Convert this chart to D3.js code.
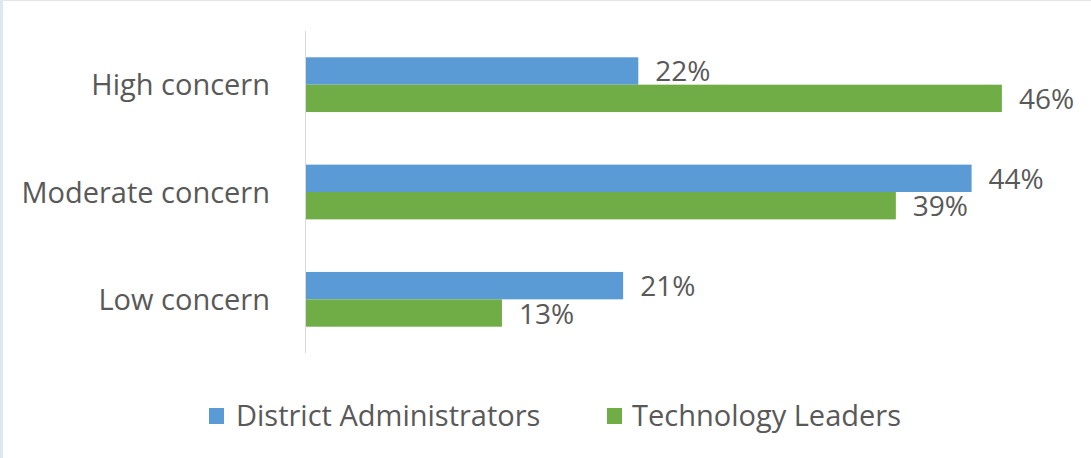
<!DOCTYPE html>
<html>
<head>
<meta charset="utf-8">
<script src="https://cdn.jsdelivr.net/npm/d3@7"></script>
<style>
  html, body { margin: 0; padding: 0; background: #fff; }
  svg { display: block; font-family: "Open Sans", sans-serif; }
</style>
</head>
<body>
<svg id="chart" width="1091" height="458"></svg>
<script>
// chart data
const categories = ['High concern', 'Moderate concern', 'Low concern']
const seriesNames = ['District Administrators', 'Technology Leaders']
const adminValues = [22, 44, 21]
const techValues = [46, 39, 13]
const colors = ['#5b9bd5', '#70ad47']

const w = 1091, h = 458
const svg = d3.select('#chart')

// frame bits from the original screenshot
svg.append('rect').attr('x', 0).attr('y', 0).attr('width', w).attr('height', 1).attr('fill', '#e6e6e6')
svg.append('rect').attr('x', 0).attr('y', 0).attr('width', 3).attr('height', h).attr('fill', '#dce9f5')

const xScale = d3.scaleLinear().domain([0, 50]).range([305, 1062.5])
const yScale = d3.scaleBand().domain(categories).range([31, 353]).paddingInner(0.49).paddingOuter(0.245)
const inner = d3.scaleBand().domain(seriesNames).range([0, yScale.bandwidth()])

const rows = categories.map((c, i) => ({cat: c, vals: [adminValues[i], techValues[i]]}))

const g = svg.selectAll('g.cat').data(rows).enter().append('g')
  .attr('transform', d => `translate(0,${yScale(d.cat)})`)

g.selectAll('rect').data(d => d.vals.map((v, i) => ({v, s: seriesNames[i], i})))
  .enter().append('rect')
  .attr('x', xScale(0))
  .attr('y', d => inner(d.s))
  .attr('height', inner.bandwidth())
  .attr('width', d => xScale(d.v) - xScale(0))
  .attr('fill', d => colors[d.i])

g.selectAll('text.val').data(d => d.vals.map((v, i) => ({v, s: seriesNames[i]})))
  .enter().append('text')
  .attr('class', 'val')
  .attr('x', d => xScale(d.v) + 17)
  .attr('y', d => inner(d.s) + inner.bandwidth() / 2 + 10.5)
  .attr('font-size', 28)
  .attr('fill', '#595959')
  .text(d => d.v + '%')

// category axis
const yAxis = d3.axisLeft(yScale).tickSize(0).tickPadding(35)
const ax = svg.append('g').attr('transform', `translate(${xScale(0)},0)`).call(yAxis)
ax.select('.domain').attr('stroke', '#d9d9d9').attr('d', `M0.5,31V353`)
ax.selectAll('text')
  .attr('font-family', '"Open Sans", sans-serif')
  .attr('font-size', 29)
  .attr('fill', '#595959')
  .attr('dy', null)
  .attr('y', 10.5)

// legend
const legendX = [209, 607]
const leg = svg.selectAll('g.leg').data(seriesNames).enter().append('g')
  .attr('transform', (d, i) => `translate(${legendX[i]},408)`)
leg.append('rect').attr('width', 15).attr('height', 16).attr('fill', (d, i) => colors[i])
leg.append('text')
  .attr('x', (d, i) => i == 0 ? 27 : 25)
  .attr('y', 17.5)
  .attr('font-size', 29)
  .attr('fill', '#595959')
  .text(d => d)
</script>
</body>
</html>
